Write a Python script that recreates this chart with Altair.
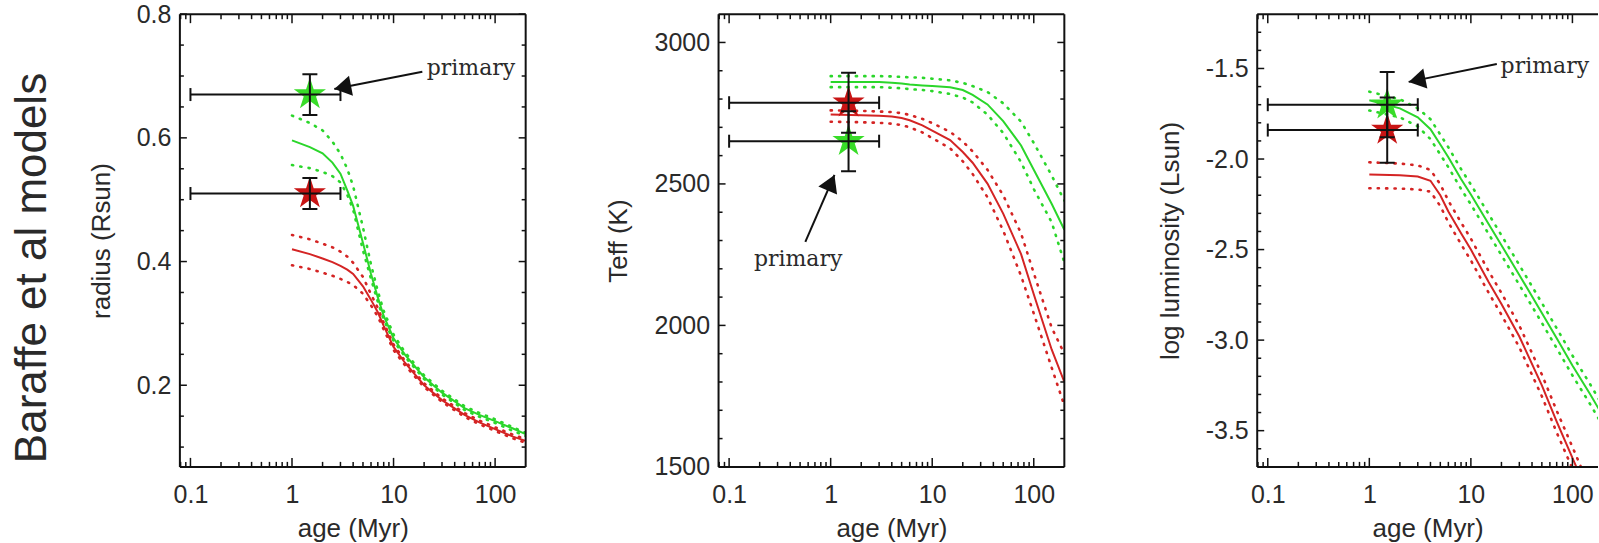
import math
import altair as alt
import pandas as pd

# ------------------------------------------------------------------
# Baraffe et al. evolutionary tracks for the two components (solid =
# nominal mass, dotted = mass uncertainty) and the measured values of
# each star at ~1.5 Myr.
# ------------------------------------------------------------------

# Radius (Rsun)
AGE_RAD = [1, 1.5, 2, 2.5, 3, 3.5, 4, 5, 6, 7, 8, 10, 13, 20, 30, 50, 70, 100, 150, 200]
RAD_PRI = [0.596, 0.585, 0.575, 0.560, 0.542, 0.515, 0.490, 0.430, 0.380, 0.342, 0.312, 0.276, 0.249, 0.213, 0.188, 0.163, 0.152, 0.142, 0.130, 0.121]
RAD_PRI_HI = [0.636, 0.624, 0.612, 0.594, 0.574, 0.550, 0.522, 0.455, 0.395, 0.352, 0.320, 0.282, 0.253, 0.216, 0.191, 0.166, 0.155, 0.145, 0.132, 0.123]
RAD_PRI_LO = [0.556, 0.551, 0.545, 0.538, 0.528, 0.508, 0.484, 0.418, 0.372, 0.335, 0.306, 0.272, 0.246, 0.210, 0.185, 0.160, 0.149, 0.139, 0.126, 0.118]
RAD_SEC = [0.420, 0.412, 0.405, 0.399, 0.393, 0.387, 0.380, 0.360, 0.338, 0.318, 0.296, 0.262, 0.236, 0.200, 0.176, 0.152, 0.140, 0.129, 0.117, 0.110]
RAD_SEC_HI = [0.443, 0.436, 0.429, 0.423, 0.416, 0.408, 0.398, 0.375, 0.347, 0.325, 0.301, 0.266, 0.239, 0.203, 0.179, 0.155, 0.143, 0.132, 0.120, 0.113]
RAD_SEC_LO = [0.394, 0.388, 0.382, 0.377, 0.372, 0.367, 0.362, 0.348, 0.329, 0.311, 0.290, 0.257, 0.232, 0.197, 0.173, 0.149, 0.137, 0.126, 0.114, 0.107]

# Effective temperature (K)
AGE_TEFF = [1, 2, 3, 4, 5, 6, 8, 10, 15, 20, 25, 35, 50, 75, 100, 150, 200]
TEFF_PRI = [2860, 2860, 2860, 2858, 2855, 2851, 2848, 2846, 2842, 2832, 2815, 2781, 2722, 2636, 2550, 2430, 2338]
TEFF_PRI_HI = [2881, 2881, 2881, 2880, 2878, 2877, 2875, 2872, 2866, 2857, 2846, 2825, 2785, 2720, 2645, 2530, 2441]
TEFF_PRI_LO = [2842, 2842, 2842, 2840, 2838, 2835, 2832, 2828, 2818, 2805, 2788, 2745, 2680, 2577, 2482, 2365, 2222]
TEFF_SEC = [2745, 2743, 2741, 2738, 2733, 2725, 2707, 2688, 2655, 2613, 2575, 2501, 2395, 2252, 2110, 1915, 1800]
TEFF_SEC_HI = [2760, 2758, 2756, 2754, 2750, 2744, 2730, 2715, 2684, 2650, 2615, 2550, 2460, 2325, 2185, 1992, 1900]
TEFF_SEC_LO = [2720, 2718, 2716, 2713, 2708, 2700, 2682, 2662, 2626, 2580, 2535, 2453, 2335, 2175, 2042, 1851, 1717]

# log luminosity (Lsun)
AGE_LUM_PRI = [1, 2, 3, 4, 5, 6, 8, 10, 15, 20, 30, 50, 70, 100, 150, 200]
LUM_PRI = [-1.675, -1.72, -1.77, -1.835, -1.92, -1.99, -2.11, -2.196, -2.36, -2.476, -2.64, -2.85, -2.99, -3.14, -3.30, -3.42]
LUM_PRI_HI = [-1.628, -1.67, -1.72, -1.78, -1.865, -1.935, -2.055, -2.141, -2.305, -2.421, -2.585, -2.795, -2.935, -3.085, -3.245, -3.365]
LUM_PRI_LO = [-1.732, -1.77, -1.82, -1.89, -1.975, -2.045, -2.165, -2.251, -2.415, -2.531, -2.695, -2.905, -3.045, -3.195, -3.355, -3.475]
AGE_LUM_SEC = [1, 2, 3, 4, 5, 6, 8, 10, 15, 20, 30, 50, 70, 100, 130]
LUM_SEC = [-2.085, -2.09, -2.097, -2.12, -2.20, -2.29, -2.41, -2.50, -2.68, -2.80, -2.98, -3.25, -3.45, -3.65, -3.80]
LUM_SEC_HI = [-2.018, -2.025, -2.035, -2.06, -2.14, -2.23, -2.35, -2.44, -2.62, -2.74, -2.92, -3.19, -3.39, -3.59, -3.74]
LUM_SEC_LO = [-2.161, -2.163, -2.168, -2.18, -2.26, -2.35, -2.47, -2.56, -2.74, -2.86, -3.04, -3.31, -3.51, -3.71, -3.86]

# Measurements: age 1.5 Myr (range 0.1-3 Myr); value and 1-sigma error
OBS_AGE = 1.5
OBS_AGE_RANGE = [0.1, 3.0]
STARS = ["primary", "secondary"]
RAD_OBS = [0.670, 0.510]
RAD_ERR = [0.033, 0.025]
TEFF_OBS = [2651, 2787]
TEFF_ERR = [106, 106]
LUM_OBS = [-1.70, -1.84]
LUM_ERR = [0.18, 0.18]

# "primary" arrows: tail (age, value), tip (age, value), label (age, value)
RAD_ARROW = [(19.2, 0.707), (2.61, 0.679), (57.8, 0.7135)]
TEFF_ARROW = [(0.563, 2295), (1.09, 2532), (0.478, 2235)]
LUM_ARROW = [(18.0, -1.475), (2.44, -1.574), (53.5, -1.485)]

# Axis ticks
X_MAJOR = [0.1, 1, 10, 100]
X_MINOR = [0.08, 0.09, 0.2, 0.3, 0.4, 0.5, 0.6, 0.7, 0.8, 0.9, 2, 3, 4, 5, 6, 7, 8, 9,
           20, 30, 40, 50, 60, 70, 80, 90]
RAD_MAJOR = [0.2, 0.4, 0.6, 0.8]
RAD_MINOR = [0.1, 0.15, 0.25, 0.3, 0.35, 0.45, 0.5, 0.55, 0.65, 0.7, 0.75]
TEFF_MAJOR = [1500, 2000, 2500, 3000]
TEFF_MINOR = [1600, 1700, 1800, 1900, 2100, 2200, 2300, 2400, 2600, 2700, 2800, 2900]
LUM_MAJOR = [-3.5, -3.0, -2.5, -2.0, -1.5]
LUM_MINOR = [-3.6, -3.4, -3.3, -3.2, -3.1, -2.9, -2.8, -2.7, -2.6, -2.4, -2.3, -2.2, -2.1,
             -1.9, -1.8, -1.7, -1.6, -1.4, -1.3]

# ------------------------------------------------------------------
# Styling and layout
# ------------------------------------------------------------------
FONT = "Liberation Sans"
SERIF = "DejaVu Serif"
INK = "#111111"
TEXT = "#2a2a2a"
LINE_COLORS = ["#2bd62b", "#d42424"]
STAR_COLORS = ["#38dc28", "#c81414"]

PLOT_W, PLOT_H = 346, 453
GAP = 193
LEFT, TOP = 180, 14
PAGE_W = 1599
X_MIN, X_MAX = 0.0787, 200.0
W3 = PAGE_W - (LEFT + 2 * (PLOT_W + GAP))
X_MAX3 = 10 ** (math.log10(X_MIN) + (math.log10(X_MAX) - math.log10(X_MIN)) * W3 / PLOT_W)

STAR_PATH = ("M0,-1L0.2245,-0.309L0.951,-0.309L0.363,0.118L0.588,0.809L0,0.382"
             "L-0.588,0.809L-0.363,0.118L-0.951,-0.309L-0.2245,-0.309Z")
HEAD_PATH = "M0,0L0.6,1L-0.6,1Z"


def track_table(age_pri, pri, pri_hi, pri_lo, age_sec, sec, sec_hi, sec_lo):
    rows = []
    for star, ages, series in (("primary", age_pri, (pri, pri_hi, pri_lo)),
                               ("secondary", age_sec, (sec, sec_hi, sec_lo))):
        for kind, vals in zip(("model", "upper", "lower"), series):
            for a, v in zip(ages, vals):
                rows.append({"age": a, "val": v, "star": star, "kind": kind,
                             "line": star + "-" + kind})
    return pd.DataFrame(rows)


def panel(width, xmax, ydom, ymajor, yminor, ytitle, yexpr, tracks, obs, err,
          arrow, right_frame=True, extra=()):
    xs = alt.Scale(type="log", domain=[X_MIN, xmax], nice=False)
    ys = alt.Scale(domain=ydom, nice=False, zero=False)
    stroke_scale = alt.Scale(domain=STARS, range=LINE_COLORS)
    fill_scale = alt.Scale(domain=STARS, range=STAR_COLORS)

    xaxis = alt.Axis(title="age (Myr)", values=X_MAJOR, format="~g", grid=False,
                     ticks=False, tickSize=0, domain=False, labelFont=FONT,
                     labelFontSize=25, labelColor=TEXT, labelPadding=16,
                     titleFont=FONT, titleFontSize=26, titleFontWeight="normal",
                     titleColor=TEXT, titlePadding=8)
    yaxis = alt.Axis(title=ytitle, values=ymajor, labelExpr=yexpr, grid=False,
                     ticks=False, tickSize=0, domain=False, labelFont=FONT,
                     labelFontSize=25, labelColor=TEXT, labelPadding=9,
                     titleFont=FONT, titleFontSize=26, titleFontWeight="normal",
                     titleColor=TEXT, titlePadding=22)

    # every layer carries the same axis definition so that they merge into one
    def X(field):
        return alt.X(field, scale=xs, axis=xaxis)

    def Y(field):
        return alt.Y(field, scale=ys, axis=yaxis)

    layers = []
    solid = tracks[tracks.kind == "model"]
    dotted = tracks[tracks.kind != "model"]
    layers.append(alt.Chart(solid).mark_line(strokeWidth=2, clip=True).encode(
        x=X("age:Q"), y=Y("val:Q"),
        stroke=alt.Stroke("star:N", scale=stroke_scale, legend=None),
        detail="line:N", order="age:Q"))
    layers.append(alt.Chart(dotted).mark_line(strokeWidth=2.6, strokeDash=[1.2, 7.2],
                                               strokeCap="round", clip=True).encode(
        x=X("age:Q"), y=Y("val:Q"),
        stroke=alt.Stroke("star:N", scale=stroke_scale, legend=None),
        detail="line:N", order="age:Q"))

    obs_df = pd.DataFrame({"star": STARS, "age": [OBS_AGE] * 2, "val": obs,
                           "lo": [v - e for v, e in zip(obs, err)],
                           "hi": [v + e for v, e in zip(obs, err)],
                           "amin": [OBS_AGE_RANGE[0]] * 2,
                           "amax": [OBS_AGE_RANGE[1]] * 2})
    layers.append(alt.Chart(obs_df).mark_point(shape=STAR_PATH, filled=True, size=1150,
                                               opacity=1, strokeWidth=0).encode(
        x=X("age:Q"), y=Y("val:Q"),
        fill=alt.Fill("star:N", scale=fill_scale, legend=None)))
    layers.append(alt.Chart(obs_df).mark_rule(color=INK, strokeWidth=2).encode(
        x=X("age:Q"), y=Y("lo:Q"), y2="hi:Q"))
    layers.append(alt.Chart(obs_df).mark_rule(color=INK, strokeWidth=2).encode(
        x=X("amin:Q"), x2="amax:Q", y=Y("val:Q")))
    caps_v = pd.DataFrame({"age": [OBS_AGE] * 4,
                           "y": list(obs_df.lo) + list(obs_df.hi)})
    layers.append(alt.Chart(caps_v).mark_tick(orient="horizontal", size=15, thickness=2,
                                              color=INK, opacity=1).encode(
        x=X("age:Q"), y=Y("y:Q")))
    caps_h = pd.DataFrame({"a": OBS_AGE_RANGE * 2, "y": [obs[0]] * 2 + [obs[1]] * 2})
    layers.append(alt.Chart(caps_h).mark_tick(orient="vertical", size=13, thickness=2,
                                              color=INK, opacity=1).encode(
        x=X("a:Q"), y=Y("y:Q")))

    # arrow pointing at the primary
    (ta, tv), (pa, pv), (la, lv) = arrow
    lmin, lmax = math.log10(X_MIN), math.log10(xmax)

    def to_px(a, v):
        return (width * (math.log10(a) - lmin) / (lmax - lmin),
                PLOT_H * (ydom[1] - v) / (ydom[1] - ydom[0]))
    (x0, y0), (x1, y1) = to_px(ta, tv), to_px(pa, pv)
    head_angle = math.degrees(math.atan2(x1 - x0, -(y1 - y0))) % 360
    arrow_df = pd.DataFrame({"a0": [ta], "v0": [tv], "a1": [pa], "v1": [pv],
                             "la": [la], "lv": [lv], "txt": ["primary"]})
    layers.append(alt.Chart(arrow_df).mark_rule(color=INK, strokeWidth=2).encode(
        x=X("a0:Q"), x2="a1:Q", y=Y("v0:Q"), y2="v1:Q"))
    layers.append(alt.Chart(arrow_df).mark_point(shape=HEAD_PATH, filled=True, size=1156,
                                                 angle=head_angle, color=INK,
                                                 opacity=1, strokeWidth=0).encode(
        x=X("a1:Q"), y=Y("v1:Q")))
    layers.append(alt.Chart(arrow_df).mark_text(font=SERIF, fontSize=22, color=TEXT,
                                                align="center", baseline="middle").encode(
        x=X("la:Q"), y=Y("lv:Q"), text="txt:N"))

    # frame
    one = pd.DataFrame({"k": [0]})
    frame = alt.Chart(one).mark_rule(color=INK, strokeWidth=2)
    layers.append(frame.encode(x=alt.value(0), x2=alt.value(width), y=alt.value(0)))
    layers.append(frame.encode(x=alt.value(0), x2=alt.value(width), y=alt.value(PLOT_H)))
    layers.append(frame.encode(x=alt.value(0), y=alt.value(0), y2=alt.value(PLOT_H)))
    if right_frame:
        layers.append(frame.encode(x=alt.value(width), y=alt.value(0), y2=alt.value(PLOT_H)))

    # inward ticks on every side
    xmaj = pd.DataFrame({"t": [t for t in X_MAJOR if t < xmax]})
    xmin_ = pd.DataFrame({"t": [t for t in X_MINOR if X_MIN <= t < xmax * 0.99]})
    for df, ln in ((xmaj, 9), (xmin_, 5)):
        tk = alt.Chart(df).mark_rule(color=INK, strokeWidth=1.5)
        layers.append(tk.encode(x=X("t:Q"), y=alt.value(PLOT_H), y2=alt.value(PLOT_H - ln)))
        layers.append(tk.encode(x=X("t:Q"), y=alt.value(0), y2=alt.value(ln)))
    for vals, ln in ((ymajor, 7), (yminor, 4)):
        tk = alt.Chart(pd.DataFrame({"t": vals})).mark_rule(color=INK, strokeWidth=1.5)
        layers.append(tk.encode(y=Y("t:Q"), x=alt.value(0), x2=alt.value(ln)))
        if right_frame:
            layers.append(tk.encode(y=Y("t:Q"), x=alt.value(width), x2=alt.value(width - ln)))

    layers.extend(extra)
    return alt.layer(*layers).properties(width=width, height=PLOT_H)


one_fmt = "replace(format(datum.value, '.1f'), '\u2212', '-')"

side_title = alt.Chart(pd.DataFrame({"t": ["Baraffe et al models"]})).mark_text(
    angle=270, font=FONT, fontSize=44, color=TEXT, align="center", baseline="middle"
).encode(x=alt.value(33 - LEFT), y=alt.value(268 - TOP), text="t:N")
# keeps the page origin fixed relative to the first plot
anchor = alt.Chart(pd.DataFrame({"k": [0]})).mark_rule(opacity=0, strokeWidth=1).encode(
    x=alt.value(-LEFT), y=alt.value(-TOP), y2=alt.value(-TOP + 1))

p_rad = panel(PLOT_W, X_MAX, [0.068, 0.8], RAD_MAJOR, RAD_MINOR, "radius (Rsun)", one_fmt,
              track_table(AGE_RAD, RAD_PRI, RAD_PRI_HI, RAD_PRI_LO,
                          AGE_RAD, RAD_SEC, RAD_SEC_HI, RAD_SEC_LO),
              RAD_OBS, RAD_ERR, RAD_ARROW, extra=(side_title, anchor))
p_teff = panel(PLOT_W, X_MAX, [1500, 3100], TEFF_MAJOR, TEFF_MINOR, "Teff (K)",
               "format(datum.value, 'd')",
               track_table(AGE_TEFF, TEFF_PRI, TEFF_PRI_HI, TEFF_PRI_LO,
                           AGE_TEFF, TEFF_SEC, TEFF_SEC_HI, TEFF_SEC_LO),
               TEFF_OBS, TEFF_ERR, TEFF_ARROW)
p_lum = panel(W3, X_MAX3, [-3.7, -1.2], LUM_MAJOR, LUM_MINOR, "log luminosity (Lsun)", one_fmt,
              track_table(AGE_LUM_PRI, LUM_PRI, LUM_PRI_HI, LUM_PRI_LO,
                          AGE_LUM_SEC, LUM_SEC, LUM_SEC_HI, LUM_SEC_LO),
              LUM_OBS, LUM_ERR, LUM_ARROW, right_frame=False)

chart = alt.hconcat(p_rad, p_teff, p_lum, spacing=GAP, bounds="flush").properties(
    padding=0, background="white"
).configure_view(stroke=None)

chart.save("out.html", embed_options={"renderer": "svg", "actions": False})
